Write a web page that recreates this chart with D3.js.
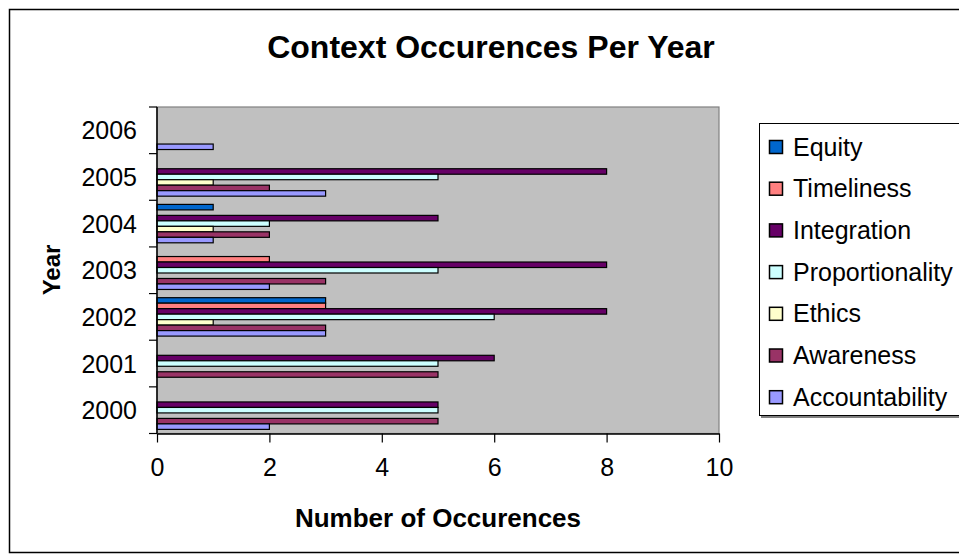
<!DOCTYPE html>
<html>
<head>
<meta charset="utf-8">
<script src="https://cdn.jsdelivr.net/npm/d3@7/dist/d3.min.js"></script>
<style>
  html, body { margin: 0; padding: 0; background: #fff; }
  svg { display: block; font-family: "Liberation Sans", Arial, sans-serif; }
</style>
</head>
<body>
<svg id="chart" width="959" height="560"></svg>
<script>
// Years on the category axis (bottom to top)
const years = ["2000", "2001", "2002", "2003", "2004", "2005", "2006"];

// Series, in legend order (top to bottom)
const seriesNames = ["Equity", "Timeliness", "Integration", "Proportionality", "Ethics", "Awareness", "Accountability"];
const seriesColors = ["#0066CC", "#FF8080", "#660066", "#CCFFFF", "#FFFFCC", "#993366", "#9999FF"];

// Occurrence counts per series, one value per year (2000..2006)
const equity          = [0, 0, 3, 0, 1, 0, 0];
const timeliness      = [0, 0, 3, 2, 0, 0, 0];
const integration     = [5, 6, 8, 8, 5, 8, 0];
const proportionality = [5, 5, 6, 5, 2, 5, 0];
const ethics          = [0, 0, 1, 0, 1, 1, 0];
const awareness       = [5, 5, 3, 3, 2, 2, 0];
const accountability  = [2, 0, 3, 2, 1, 3, 1];

const xTicks = [0, 2, 4, 6, 8, 10];

const seriesValues = [equity, timeliness, integration, proportionality, ethics, awareness, accountability];

const svg = d3.select("#chart");

// chart frame
svg.append("rect")
  .attr("x", 9.5).attr("y", 9.5)
  .attr("width", 1000).attr("height", 543)
  .attr("fill", "#fff").attr("stroke", "#000").attr("stroke-width", 1.5);

const plot = { left: 157, right: 719, top: 107, bottom: 433.5 };

const x = d3.scaleLinear().domain([0, 10]).range([plot.left, plot.right]);
const y0 = d3.scaleBand().domain(years).range([plot.bottom, plot.top]).padding(0);
// within a year band: Equity at the top, Accountability at the bottom; gap width 150%
const y1 = d3.scaleBand().domain(seriesNames).range([0, y0.bandwidth()])
  .paddingInner(0).paddingOuter(0.75);
const color = d3.scaleOrdinal().domain(seriesNames).range(seriesColors);

// plot background
svg.append("rect")
  .attr("x", plot.left).attr("y", plot.top)
  .attr("width", plot.right - plot.left).attr("height", plot.bottom - plot.top)
  .attr("fill", "#C0C0C0").attr("stroke", "#808080").attr("stroke-width", 1.2);

// bars
const barData = [];
seriesNames.forEach((s, si) => {
  years.forEach((yr, yi) => {
    const v = seriesValues[si][yi];
    if (v > 0) barData.push({ series: s, year: yr, value: v });
  });
});

svg.append("g").selectAll("rect")
  .data(barData)
  .join("rect")
  .attr("x", x(0))
  .attr("y", d => y0(d.year) + y1(d.series))
  .attr("width", d => x(d.value) - x(0))
  .attr("height", y1.bandwidth())
  .attr("fill", d => color(d.series))
  .attr("stroke", "#000")
  .attr("stroke-width", 1.2);

// x axis
const xAxis = svg.append("g")
  .attr("transform", `translate(0,${plot.bottom})`)
  .call(d3.axisBottom(x).tickValues(xTicks).tickSize(9).tickPadding(16).tickSizeOuter(0));
xAxis.select(".domain").attr("stroke", "#000").attr("stroke-width", 1.5);
xAxis.selectAll(".tick line").attr("stroke", "#000").attr("stroke-width", 1.2);
xAxis.selectAll("text").attr("font-size", 25).attr("fill", "#000")
  .attr("font-family", "'Liberation Sans', Arial, sans-serif");

// y axis: ticks sit between the year bands
const yAxis = svg.append("g").attr("transform", `translate(${plot.left},0)`);
yAxis.append("line")
  .attr("x1", 0).attr("x2", 0).attr("y1", plot.top).attr("y2", plot.bottom)
  .attr("stroke", "#000").attr("stroke-width", 1.5);
const boundaries = years.map(yr => y0(yr)).concat([plot.bottom]);
yAxis.selectAll("line.tk")
  .data(boundaries)
  .join("line")
  .attr("class", "tk")
  .attr("x1", -8).attr("x2", 0)
  .attr("y1", d => d).attr("y2", d => d)
  .attr("stroke", "#000").attr("stroke-width", 1.2);
yAxis.selectAll("text")
  .data(years)
  .join("text")
  .attr("x", -20)
  .attr("y", d => y0(d) + y0.bandwidth() / 2 + 9)
  .attr("text-anchor", "end")
  .attr("font-size", 25)
  .text(d => d);

// titles
svg.append("text")
  .attr("x", 491).attr("y", 58)
  .attr("text-anchor", "middle")
  .attr("font-size", 32).attr("font-weight", "bold")
  .text("Context Occurences Per Year");

svg.append("text")
  .attr("x", (plot.left + plot.right) / 2).attr("y", 527)
  .attr("text-anchor", "middle")
  .attr("font-size", 26).attr("font-weight", "bold")
  .text("Number of Occurences");

svg.append("text")
  .attr("transform", "translate(60,270) rotate(-90)")
  .attr("text-anchor", "middle")
  .attr("font-size", 24).attr("font-weight", "bold")
  .text("Year");

// legend
const legend = svg.append("g");
legend.append("rect")
  .attr("x", 761).attr("y", 125).attr("width", 260).attr("height", 293)
  .attr("fill", "#808080");
legend.append("rect")
  .attr("x", 759.5).attr("y", 123.5).attr("width", 260).attr("height", 292)
  .attr("fill", "#fff").attr("stroke", "#000").attr("stroke-width", 1);

const item = legend.selectAll("g.item")
  .data(seriesNames)
  .join("g")
  .attr("class", "item")
  .attr("transform", (d, i) => `translate(0,${147 + i * 41.7})`);
item.append("rect")
  .attr("x", 769.5).attr("y", -6.5).attr("width", 13).attr("height", 13)
  .attr("fill", d => color(d)).attr("stroke", "#000").attr("stroke-width", 1.5);
item.append("text")
  .attr("x", 793).attr("y", 8.5)
  .attr("font-size", 25)
  .text(d => d);
</script>
</body>
</html>
